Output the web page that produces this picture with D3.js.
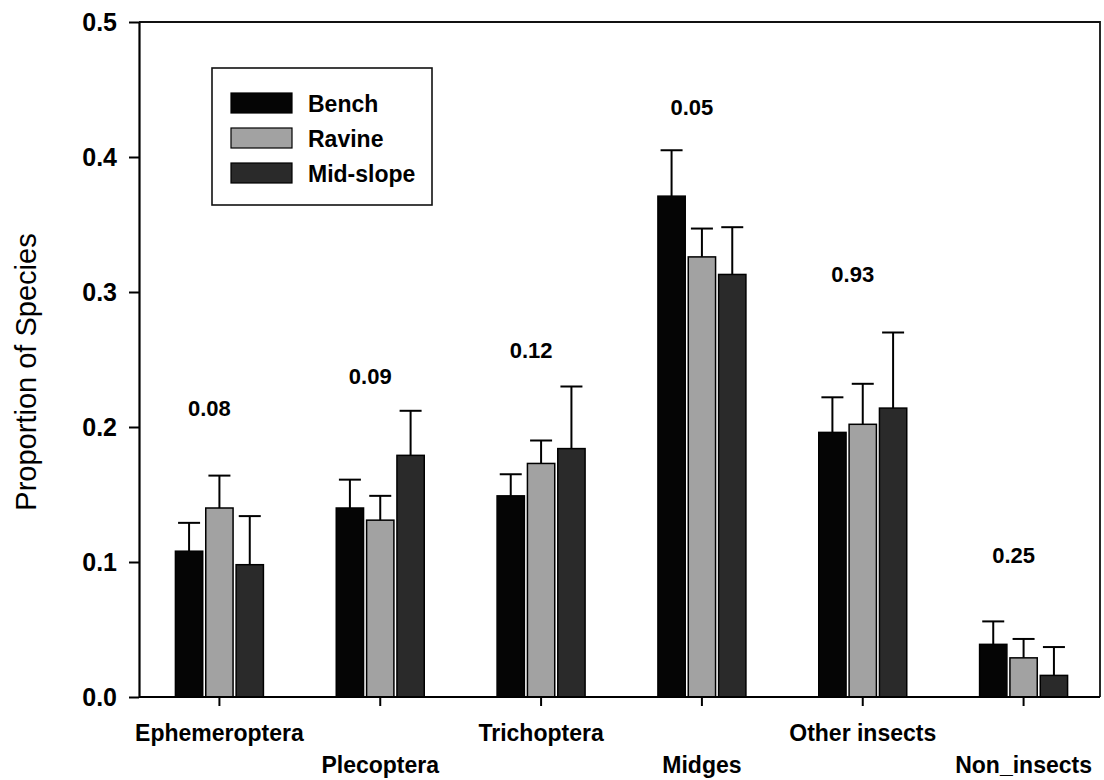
<!DOCTYPE html>
<html>
<head>
<meta charset="utf-8">
<script src="https://cdn.jsdelivr.net/npm/d3@7"></script>
<style>
  body { margin: 0; background: #fff; }
  text { font-family: "Liberation Sans", Arial, sans-serif; }
</style>
</head>
<body>
<svg id="chart" width="1104" height="780"></svg>
<script>
const categories = ['Ephemeroptera', 'Plecoptera', 'Trichoptera', 'Midges', 'Other insects', 'Non_insects'];
const series = ['Bench', 'Ravine', 'Mid-slope'];

const bench = [0.108, 0.140, 0.149, 0.371, 0.196, 0.039];
const benchErr = [0.021, 0.021, 0.016, 0.034, 0.026, 0.017];
const ravine = [0.140, 0.131, 0.173, 0.326, 0.202, 0.029];
const ravineErr = [0.024, 0.018, 0.017, 0.021, 0.030, 0.014];
const midSlope = [0.098, 0.179, 0.184, 0.313, 0.214, 0.016];
const midSlopeErr = [0.036, 0.033, 0.046, 0.035, 0.056, 0.021];

// p-values printed over each group, and the height (in data units) they sit at
const pValues = ['0.08', '0.09', '0.12', '0.05', '0.93', '0.25'];
const pLabelY = [0.214, 0.238, 0.257, 0.437, 0.313, 0.105];

const yTicks = [0.0, 0.1, 0.2, 0.3, 0.4, 0.5];

const fills = {'Bench': '#050505', 'Ravine': '#a2a2a2', 'Mid-slope': '#2a2a2a'};

let svg = d3.select('#chart');
let plotLeft = 139, plotRight = 1100, plotTop = 22, plotBottom = 697;

let x = d3.scaleBand().domain(categories).range([plotLeft, 1104]);
let xs = d3.scaleBand().domain(series).range([-44, 44]).paddingInner(0.1);
let y = d3.scaleLinear().domain([0, 0.5]).range([plotBottom, plotTop]);

let rows = [];
categories.forEach((c, i) => {
  rows.push({cat: c, s: 'Bench', v: bench[i], e: benchErr[i]});
  rows.push({cat: c, s: 'Ravine', v: ravine[i], e: ravineErr[i]});
  rows.push({cat: c, s: 'Mid-slope', v: midSlope[i], e: midSlopeErr[i]});
});
let cx = c => x(c) + x.bandwidth() / 2;

// frame (top + right)
svg.append('path')
  .attr('d', `M${plotLeft},${plotTop}H${plotRight}V${plotBottom}`)
  .attr('fill', 'none').attr('stroke', '#111').attr('stroke-width', 1.8);

// error bars (drawn first so bars sit over the stem base)
let err = svg.append('g').attr('stroke', '#000').attr('stroke-width', 2);
rows.forEach(d => {
  let bx = cx(d.cat) + xs(d.s) + xs.bandwidth() / 2;
  err.append('line').attr('x1', bx).attr('x2', bx).attr('y1', y(d.v)).attr('y2', y(d.v + d.e));
  err.append('line').attr('x1', bx - 11).attr('x2', bx + 11).attr('y1', y(d.v + d.e)).attr('y2', y(d.v + d.e));
});

svg.append('g').selectAll('rect').data(rows).join('rect')
  .attr('x', d => cx(d.cat) + xs(d.s))
  .attr('y', d => y(d.v))
  .attr('width', xs.bandwidth())
  .attr('height', d => plotBottom - y(d.v))
  .attr('fill', d => fills[d.s])
  .attr('stroke', '#000').attr('stroke-width', 1.5);

// y axis
let yAxis = svg.append('g').attr('transform', `translate(${plotLeft},0)`)
  .call(d3.axisLeft(y).tickValues(yTicks).tickFormat(d3.format('.1f')).tickSize(10).tickPadding(12).tickSizeOuter(0));
yAxis.select('.domain').attr('stroke-width', 2.2);
yAxis.selectAll('.tick line').attr('stroke-width', 2);
yAxis.selectAll('text').attr('font-size', 25).attr('font-weight', 'bold').attr('fill', '#000')
  .attr('font-family', '"Liberation Sans", Arial, sans-serif');

// x axis
let xAxis = svg.append('g').attr('transform', `translate(0,${plotBottom})`)
  .call(d3.axisBottom(x).tickSize(9).tickSizeOuter(0));
xAxis.select('.domain').attr('d', `M${plotLeft},0H${plotRight}`).attr('stroke-width', 2.2);
xAxis.selectAll('.tick line').attr('stroke-width', 2);
xAxis.selectAll('text')
  .attr('font-size', 23).attr('font-weight', 'bold').attr('fill', '#000')
  .attr('font-family', '"Liberation Sans", Arial, sans-serif')
  .attr('y', (d, i) => i % 2 ? 76 : 44).attr('dy', 0);

// p-values
svg.append('g').selectAll('text').data(categories).join('text')
  .attr('x', d => cx(d) - 10)
  .attr('y', (d, i) => y(pLabelY[i]) + 8)
  .attr('text-anchor', 'middle')
  .attr('font-size', 22).attr('font-weight', 'bold')
  .text((d, i) => pValues[i]);

// axis title
svg.append('text')
  .attr('transform', 'translate(36,372) rotate(-90)')
  .attr('text-anchor', 'middle')
  .attr('font-size', 29)
  .text('Proportion of Species');

// legend
let legend = svg.append('g');
legend.append('rect').attr('x', 212).attr('y', 68).attr('width', 220).attr('height', 137)
  .attr('fill', '#fff').attr('stroke', '#111').attr('stroke-width', 1.6);
series.forEach((s, i) => {
  let ly = 93 + i * 35;
  legend.append('rect').attr('x', 231).attr('y', ly).attr('width', 61).attr('height', 20)
    .attr('fill', fills[s]).attr('stroke', '#000').attr('stroke-width', 1.2);
  legend.append('text').attr('x', 308).attr('y', ly + 19)
    .attr('font-size', 23).attr('font-weight', 'bold').text(s);
});
</script>
</body>
</html>
